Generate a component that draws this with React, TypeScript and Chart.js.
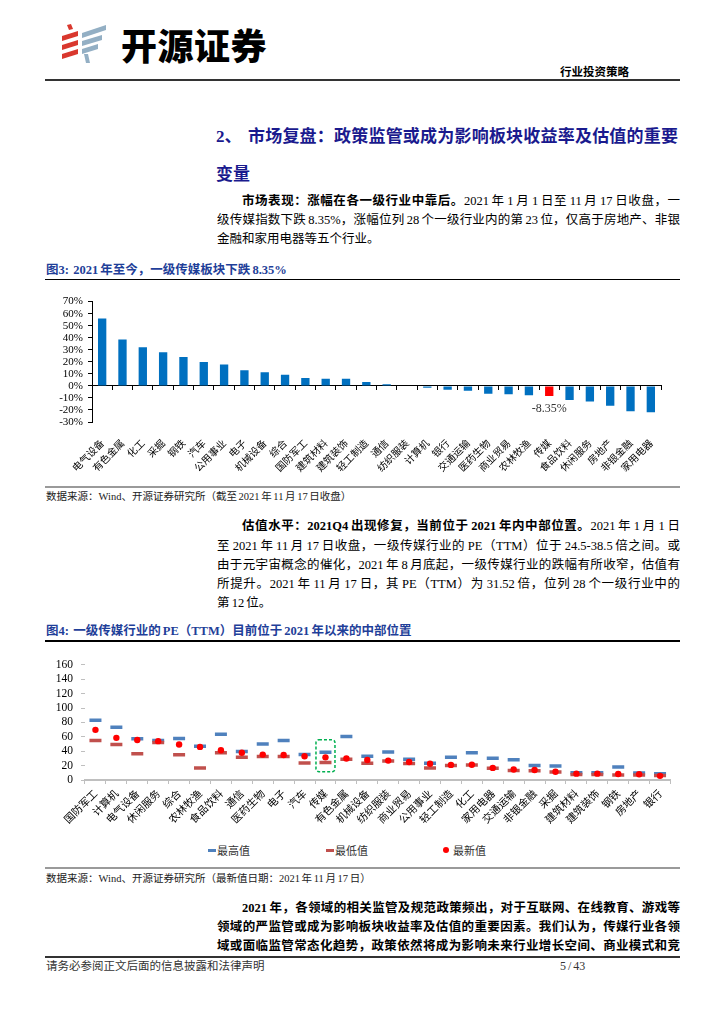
import React, { useEffect, useRef } from "react";
import { Chart, registerables } from "chart.js";
Chart.register(...registerables);

// ---------- Figure 3 data ----------
const industries = ["电气设备","有色金属","化工","采掘","钢铁","汽车","公用事业","电子","机械设备","综合","国防军工","建筑材料","建筑装饰","轻工制造","通信","纺织服装","计算机","银行","交通运输","医药生物","商业贸易","农林牧渔","传媒","食品饮料","休闲服务","房地产","非银金融","家用电器"];
const ytdReturn = [56, 38.5, 32, 28, 24, 19.8, 17.8, 13, 11.4, 9.3, 6.6, 6, 6, 3.3, 1.4, 0.3, -1.6, -3.3, -4.1, -6.6, -6.9, -7.7, -8.35, -11.8, -12.9, -16.5, -21, -22];
const returnTickMin = -30;
const returnTickMax = 70;
const returnTickStep = 10;
const highlightIndustry = "传媒";
const highlightLabel = "-8.35%";

// ---------- Figure 4 data ----------
const peIndustries = ["国防军工","计算机","电气设备","休闲服务","综合","农林牧渔","食品饮料","通信","医药生物","电子","汽车","传媒","有色金属","机械设备","纺织服装","商业贸易","公用事业","轻工制造","化工","家用电器","交通运输","非银金融","采掘","建筑材料","建筑装饰","钢铁","房地产","银行"];
const peMax = [83, 73.5, 57.5, 55, 57.8, 47, 63.5, 39.5, 50, 55, 35.5, 38.5, 60.5, 33, 38.8, 28.7, 23.4, 31.7, 37.9, 30.4, 28.2, 20.3, 19.4, 10.1, 10.1, 18.1, 9.7, 8.8];
const peMin = [55, 49.5, 36.6, 52, 35, 16.8, 38, 31.7, 32.6, 32.6, 23.8, 24.5, 29, 23.4, 26.5, 22.9, 16.8, 20.3, 20.7, 16.3, 13.2, 12.7, 11, 7.5, 7.5, 7.1, 7.1, 6.2];
const peLatest = [69.7, 58.6, 55.5, 54, 49.4, 46, 41.4, 37.9, 35.3, 34.8, 33, 31.52, 29.8, 27.8, 27, 25.1, 22.5, 21, 21.2, 16.8, 14.5, 14, 11.5, 8.8, 8.8, 8.4, 8, 5.8];
const peTickMin = 0;
const peTickMax = 160;
const peTickStep = 20;
const legendLabels = ["最高值", "最低值", "最新值"];

const serif = '"Liberation Serif", "Noto Sans CJK SC", serif';
const cjk = '"Noto Sans CJK SC", sans-serif';

function ReturnChart() {
  const ref = useRef<HTMLCanvasElement>(null);
  useEffect(() => {
    const labelPlugin = {
      id: "hlLabel",
      afterDatasetsDraw(chart: any) {
        const idx = industries.indexOf(highlightIndustry);
        const el = chart.getDatasetMeta(0).data[idx];
        if (!el) return;
        const ctx = chart.ctx;
        ctx.save();
        ctx.font = '12px "Liberation Serif"';
        ctx.fillStyle = "#333";
        ctx.textAlign = "center";
        ctx.textBaseline = "middle";
        ctx.fillText(highlightLabel, el.x, el.y + 13);
        ctx.restore();
      },
    };
    const chart = new Chart(ref.current as HTMLCanvasElement, {
      type: "bar",
      data: {
        labels: industries,
        datasets: [
          {
            data: ytdReturn,
            backgroundColor: industries.map((n) => (n === highlightIndustry ? "#FF0000" : "#0070C0")),
            barPercentage: 0.82,
            categoryPercentage: 0.5,
          },
        ],
      },
      options: {
        animation: false,
        responsive: false,
        maintainAspectRatio: false,
        layout: { padding: { top: 11, right: 19, left: 0, bottom: 0 } },
        plugins: { legend: { display: false }, tooltip: { enabled: false } },
        scales: {
          x: {
            grid: { display: false },
            border: { display: false },
            ticks: {
              autoSkip: false,
              minRotation: 45,
              maxRotation: 45,
              padding: 7,
              color: "#000",
              font: { family: cjk, size: 10 },
            },
            afterFit: (s: any) => { s.height = 60; },
          },
          xz: {
            type: "category",
            labels: industries,
            position: { y: 0 },
            offset: true,
            grid: { display: true, drawOnChartArea: false, offset: true, tickLength: 4, color: "#000" },
            border: { display: true, color: "#000", width: 1 },
            ticks: { display: false },
          },
          y: {
            min: returnTickMin,
            max: returnTickMax,
            ticks: {
              stepSize: returnTickStep,
              autoSkip: false,
              callback: (v: any) => v + "%",
              color: "#000",
              padding: 5,
              font: { family: "Liberation Serif", size: 11 },
            },
            grid: { drawOnChartArea: false, tickLength: 4, color: "#000" },
            border: { display: true, color: "#000" },
            afterFit: (s: any) => { s.width = 47; },
          },
        } as any,
      },
      plugins: [labelPlugin],
    });
    return () => chart.destroy();
  }, []);
  return (
    <canvas
      ref={ref}
      width={635}
      height={192}
      style={{ position: "absolute", left: 45, top: 290, width: 635, height: 192 }}
    />
  );
}

function PEChart() {
  const ref = useRef<HTMLCanvasElement>(null);
  useEffect(() => {
    const boxPlugin = {
      id: "hlBox",
      afterDatasetsDraw(chart: any) {
        const idx = peIndustries.indexOf(highlightIndustry);
        const xs = chart.scales.x;
        const ys = chart.scales.y;
        const cx = xs.getPixelForValue(idx);
        const top = ys.getPixelForValue(56);
        const bottom = ys.getPixelForValue(11.5);
        const ctx = chart.ctx;
        ctx.save();
        ctx.strokeStyle = "#00B050";
        ctx.lineWidth = 1.5;
        ctx.setLineDash([3, 2]);
        ctx.beginPath();
        ctx.roundRect(cx - 9.5, top, 19, bottom - top, 3);
        ctx.stroke();
        ctx.restore();
      },
    };
    const common = { showLine: false, borderWidth: 0 };
    const chart = new Chart(ref.current as HTMLCanvasElement, {
      type: "line",
      data: {
        labels: peIndustries,
        datasets: [
          {
            ...common,
            label: legendLabels[2],
            data: peLatest,
            pointStyle: "circle",
            pointRadius: 3.2,
            pointBorderWidth: 0,
            pointBackgroundColor: "#FF0000",
            pointBorderColor: "#FF0000",
            order: 1,
          },
          {
            ...common,
            label: legendLabels[1],
            data: peMin,
            pointStyle: "line",
            pointRadius: 6,
            pointBorderWidth: 3.5,
            pointBorderColor: "#C0504D",
            order: 2,
          },
          {
            ...common,
            label: legendLabels[0],
            data: peMax,
            pointStyle: "line",
            pointRadius: 6,
            pointBorderWidth: 3.5,
            pointBorderColor: "#4F81BD",
            order: 3,
          },
        ],
      },
      options: {
        animation: false,
        responsive: false,
        maintainAspectRatio: false,
        layout: { padding: { top: 9, right: 8, left: 0, bottom: 0 } },
        plugins: { legend: { display: false }, tooltip: { enabled: false } },
        scales: {
          x: {
            offset: true,
            grid: { display: true, drawOnChartArea: false, offset: true, tickLength: 4, color: "#BFBFBF" },
            border: { display: true, color: "#BFBFBF", width: 2 },
            ticks: {
              autoSkip: false,
              minRotation: 45,
              maxRotation: 45,
              padding: 3,
              color: "#000",
              font: { family: cjk, size: 10.5 },
            },
            afterFit: (s: any) => { s.height = 55; },
          },
          y: {
            min: peTickMin,
            max: peTickMax,
            ticks: {
              stepSize: peTickStep,
              autoSkip: false,
              color: "#000",
              padding: 8,
              font: { family: "Liberation Serif", size: 11.5 },
            },
            grid: { drawOnChartArea: false, tickLength: 4, color: "#BFBFBF" },
            border: { display: false },
            afterFit: (s: any) => { s.width = 40; },
          },
        } as any,
      },
      plugins: [boxPlugin],
    });
    return () => chart.destroy();
  }, []);
  return (
    <canvas
      ref={ref}
      width={635}
      height={185}
      style={{ position: "absolute", left: 45, top: 650, width: 635, height: 185 }}
    />
  );
}

function Abs({ x, cy, h = 20, size = 12.5, bold = false, color = "#000", width, justify = false, family = serif, children, style }: any) {
  return (
    <div
      style={{
        position: "absolute",
        left: x,
        top: cy - h / 2,
        height: h,
        lineHeight: h + "px",
        fontSize: size,
        fontWeight: bold ? 700 : 400,
        color,
        width,
        fontFamily: family,
        textAlign: justify ? "justify" : "left",
        textAlignLast: justify ? "justify" : "left",
        wordSpacing: "-1px",
        ...style,
      } as any}
    >
      {children}
    </div>
  );
}

function PLine({ cy, indent = 0, last = false, children, bold = false }: any) {
  return (
    <Abs x={217 + indent} cy={cy} width={463 - indent} justify={!last} bold={bold} size={12.5}>
      {children}
    </Abs>
  );
}

function Logo() {
  return (
    <svg width={47} height={39} viewBox="0 0 47 39" style={{ position: "absolute", left: 60, top: 24 }}>
      <polygon points="7,1 11,0 13,5 9,6" fill="#D9382E" />
      <polygon points="2,12 18,7 18,12 2,17" fill="#D9382E" />
      <polygon points="2,21 18,16 18,21 2,26" fill="#D9382E" />
      <polygon points="2,30 18,25 18,30 2,35" fill="#D9382E" />
      <polygon points="22,9 46,1 46,6 22,14" fill="#93AFC4" />
      <polygon points="22,17 42,11 42,16 22,22" fill="#93AFC4" />
      <polygon points="22,25 38,20 38,25 22,30" fill="#93AFC4" />
      <polygon points="24,30 28,30 30,39 26,39" fill="#93AFC4" />
    </svg>
  );
}

export default function App() {
  const hr = (top: number, color: string, h: number) => (
    <div style={{ position: "absolute", left: 45, top, width: 635, height: h, background: color }} />
  );
  const figTitle = "#1F3F99";
  return (
    <div style={{ position: "absolute", left: 0, top: 0, width: 724, height: 1024, background: "#fff", fontFamily: serif, color: "#000", overflow: "hidden" }}>
      <Logo />
      <Abs x={121} cy={43.5} h={40} size={36} family={cjk} style={{ fontWeight: 900, letterSpacing: "0.5px" }}>开源证券</Abs>
      <Abs x={560} cy={72} h={16} size={11.5} bold width={117} style={{ textAlign: "right" }}>行业投资策略</Abs>
      {hr(79, "#333", 2)}

      <Abs x={216} cy={137} h={24} size={17} bold color="#1A1A8E">2、</Abs>
      <Abs x={248} cy={137} h={24} size={17} bold color="#1A1A8E" width={430} justify>市场复盘：政策监管或成为影响板块收益率及估值的重要</Abs>
      <Abs x={216} cy={175} h={24} size={17} bold color="#1A1A8E">变量</Abs>

      <PLine cy={201} indent={25}><b>市场表现：涨幅在各一级行业中靠后。</b>2021 年 1 月 1 日至 11 月 17 日收盘，一</PLine>
      <PLine cy={220}>级传媒指数下跌 8.35%，涨幅位列 28 个一级行业内的第 23 位，仅高于房地产、非银</PLine>
      <PLine cy={239} last>金融和家用电器等五个行业。</PLine>

      <Abs x={46} cy={270} h={18} size={12.5} bold color={figTitle}>图3:&nbsp;&nbsp;2021 年至今，一级传媒板块下跌 8.35%</Abs>
      {hr(278.5, "#000", 1.5)}
      <ReturnChart />
      {hr(486, "#9A9A9A", 2)}
      <Abs x={46} cy={497} h={16} size={10.5} color="#222">数据来源：Wind、开源证券研究所（截至 2021 年 11 月 17 日收盘）</Abs>

      <PLine cy={526} indent={25}><b>估值水平：2021Q4 出现修复，当前位于 2021 年内中部位置。</b>2021 年 1 月 1 日</PLine>
      <PLine cy={545.5}>至 2021 年 11 月 17 日收盘，一级传媒行业的 PE（TTM）位于 24.5-38.5 倍之间。或</PLine>
      <PLine cy={565}>由于元宇宙概念的催化，2021 年 8 月底起，一级传媒行业的跌幅有所收窄，估值有</PLine>
      <PLine cy={584}>所提升。2021 年 11 月 17 日，其 PE（TTM）为 31.52 倍，位列 28 个一级行业中的</PLine>
      <PLine cy={603} last>第 12 位。</PLine>

      <Abs x={46} cy={631} h={18} size={12.5} bold color={figTitle}>图4:&nbsp;&nbsp;一级传媒行业的 PE（TTM）目前位于 2021 年以来的中部位置</Abs>
      {hr(640, "#000", 1.5)}
      <PEChart />

      <div style={{ position: "absolute", left: 208, top: 848.5, width: 8, height: 3, background: "#4F81BD" }} />
      <Abs x={217} cy={850} h={16} size={11} family={cjk} color="#333">{legendLabels[0]}</Abs>
      <div style={{ position: "absolute", left: 326, top: 848.5, width: 8, height: 3, background: "#C0504D" }} />
      <Abs x={335} cy={850} h={16} size={11} family={cjk} color="#333">{legendLabels[1]}</Abs>
      <div style={{ position: "absolute", left: 443, top: 847, width: 6, height: 6, borderRadius: 3, background: "#FF0000" }} />
      <Abs x={453} cy={850} h={16} size={11} family={cjk} color="#333">{legendLabels[2]}</Abs>

      {hr(867, "#9A9A9A", 2)}
      <Abs x={46} cy={879} h={16} size={10.5} color="#222">数据来源：Wind、开源证券研究所（最新值日期：2021 年 11 月 17 日）</Abs>

      <PLine cy={908} indent={25} bold>2021 年，各领域的相关监管及规范政策频出，对于互联网、在线教育、游戏等</PLine>
      <PLine cy={927} bold>领域的严监管或成为影响板块收益率及估值的重要因素。我们认为，传媒行业各领</PLine>
      <PLine cy={946} bold>域或面临监管常态化趋势，政策依然将成为影响未来行业增长空间、商业模式和竞</PLine>

      {hr(955.5, "#333", 2)}
      <Abs x={46} cy={966} h={16} size={11.5} color="#333">请务必参阅正文后面的信息披露和法律声明</Abs>
      <Abs x={560} cy={966} h={16} size={12} color="#333" width={120} style={{ textAlign: "right" }}>5 / 43</Abs>
    </div>
  );
}
